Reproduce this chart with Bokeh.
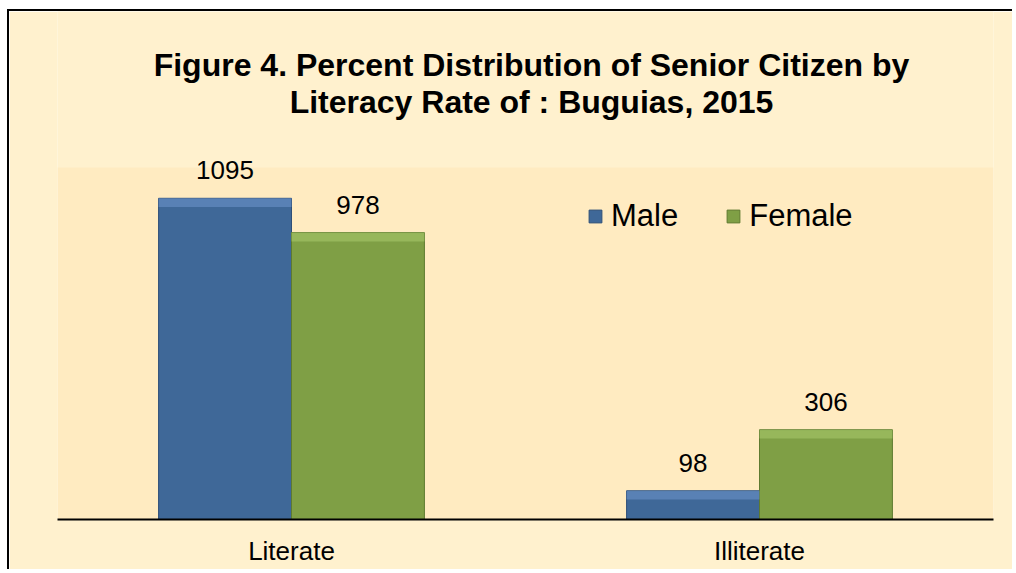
from bokeh.plotting import figure
from bokeh.models import (Range1d, FactorRange, Label, Legend, LegendItem,
                          ColumnDataSource, BoxAnnotation)
from bokeh.transform import dodge
from bokeh.core.properties import value
from bokeh.embed import file_html
from bokeh.resources import INLINE

# ---- data ----
categories = ["Literate", "Illiterate"]
series = ["Male", "Female"]
male = [1095, 98]
female = [978, 306]
title_lines = ["Figure 4. Percent Distribution of Senior Citizen by",
               "Literacy Rate of : Buguias, 2015"]
axis_max = 1200

FONT = "Liberation Sans"
OUTER_BG = "#FFF1CE"
INNER_BG = "#FFEBC1"
BLUE, BLUE_TOP, BLUE_EDGE = "#3F6898", "#6A93C8", "#2E4F78"
GREEN, GREEN_TOP, GREEN_EDGE = "#7F9F45", "#A6C86A", "#5E7A30"

BEVEL = 30  # data units for top highlight band

src = ColumnDataSource(dict(
    cat=categories, male=male, female=female,
    male_b=[v - BEVEL for v in male], female_b=[v - BEVEL for v in female],
    male_lbl=[str(v) for v in male], female_lbl=[str(v) for v in female],
))

# frame extends up to the canvas top; the plot area (0..axis_max) is
# painted separately so that titles and labels are not clipped
FRAME_H = 508.0
PLOT_H = 352.0
p = figure(width=1005, height=560, x_range=FactorRange(*categories),
           y_range=Range1d(0, axis_max * FRAME_H / PLOT_H),
           output_backend="svg", toolbar_location=None,
           y_axis_location=None,
           min_border_left=48, min_border_right=21, min_border_top=0,
           min_border_bottom=52)
p.x_range.range_padding = 0
p.background_fill_color = OUTER_BG
p.border_fill_color = OUTER_BG
p.outline_line_color = None
p.grid.visible = False
p.styles = {"margin-left": "7px", "margin-top": "9px",
            "border-left": "2px solid black", "border-top": "2px solid black"}

p.add_layout(BoxAnnotation(bottom=0, top=axis_max, fill_color=INNER_BG,
                           fill_alpha=1, line_color=None, level="underlay"))

xm = dodge("cat", -0.142, range=p.x_range)
xf = dodge("cat", 0.142, range=p.x_range)
W = 0.284

mb = p.vbar(x=xm, top="male", width=W, source=src, fill_color=BLUE,
            line_color=BLUE_EDGE, line_width=1)
fb = p.vbar(x=xf, top="female", width=W, source=src, fill_color=GREEN,
            line_color=GREEN_EDGE, line_width=1)
p.vbar(x=xm, top="male", bottom="male_b", width=W, source=src,
       fill_color=BLUE_TOP, fill_alpha=0.6, line_color=None)
p.vbar(x=xf, top="female", bottom="female_b", width=W, source=src,
       fill_color=GREEN_TOP, fill_alpha=0.6, line_color=None)

for x, col in ((xm, "male"), (xf, "female")):
    p.text(x=x, y=col, text=col + "_lbl", source=src, text_align="center",
           text_baseline="alphabetic", y_offset=-28, text_font=value(FONT),
           text_font_size="26px", text_color="black")

ax = p.xaxis[0]
ax.axis_line_color = "black"
ax.axis_line_width = 2
ax.major_tick_line_color = None
ax.minor_tick_line_color = None
ax.major_label_text_font = FONT
ax.major_label_text_font_size = "26px"
ax.major_label_text_color = "black"
ax.major_label_standoff = 10

for t, y in zip(title_lines, (1551, 1425)):
    p.add_layout(Label(x=474, x_units="screen", y=y, y_units="data", text=t,
                       text_align="center", text_baseline="alphabetic",
                       text_font=FONT, text_font_style="bold",
                       text_font_size="32px", text_color="black"))

legend = Legend(items=[LegendItem(label=series[0], renderers=[mb]),
                       LegendItem(label=series[1], renderers=[fb])],
                orientation="horizontal", location=(530, 285),
                glyph_width=16, glyph_height=16, label_standoff=8, spacing=47,
                padding=0, margin=0, border_line_color=None,
                background_fill_alpha=0, label_text_font=FONT,
                label_text_font_size="31px", label_text_color="black")
p.add_layout(legend, "center")

open("out.html", "w").write(file_html(p, INLINE))
